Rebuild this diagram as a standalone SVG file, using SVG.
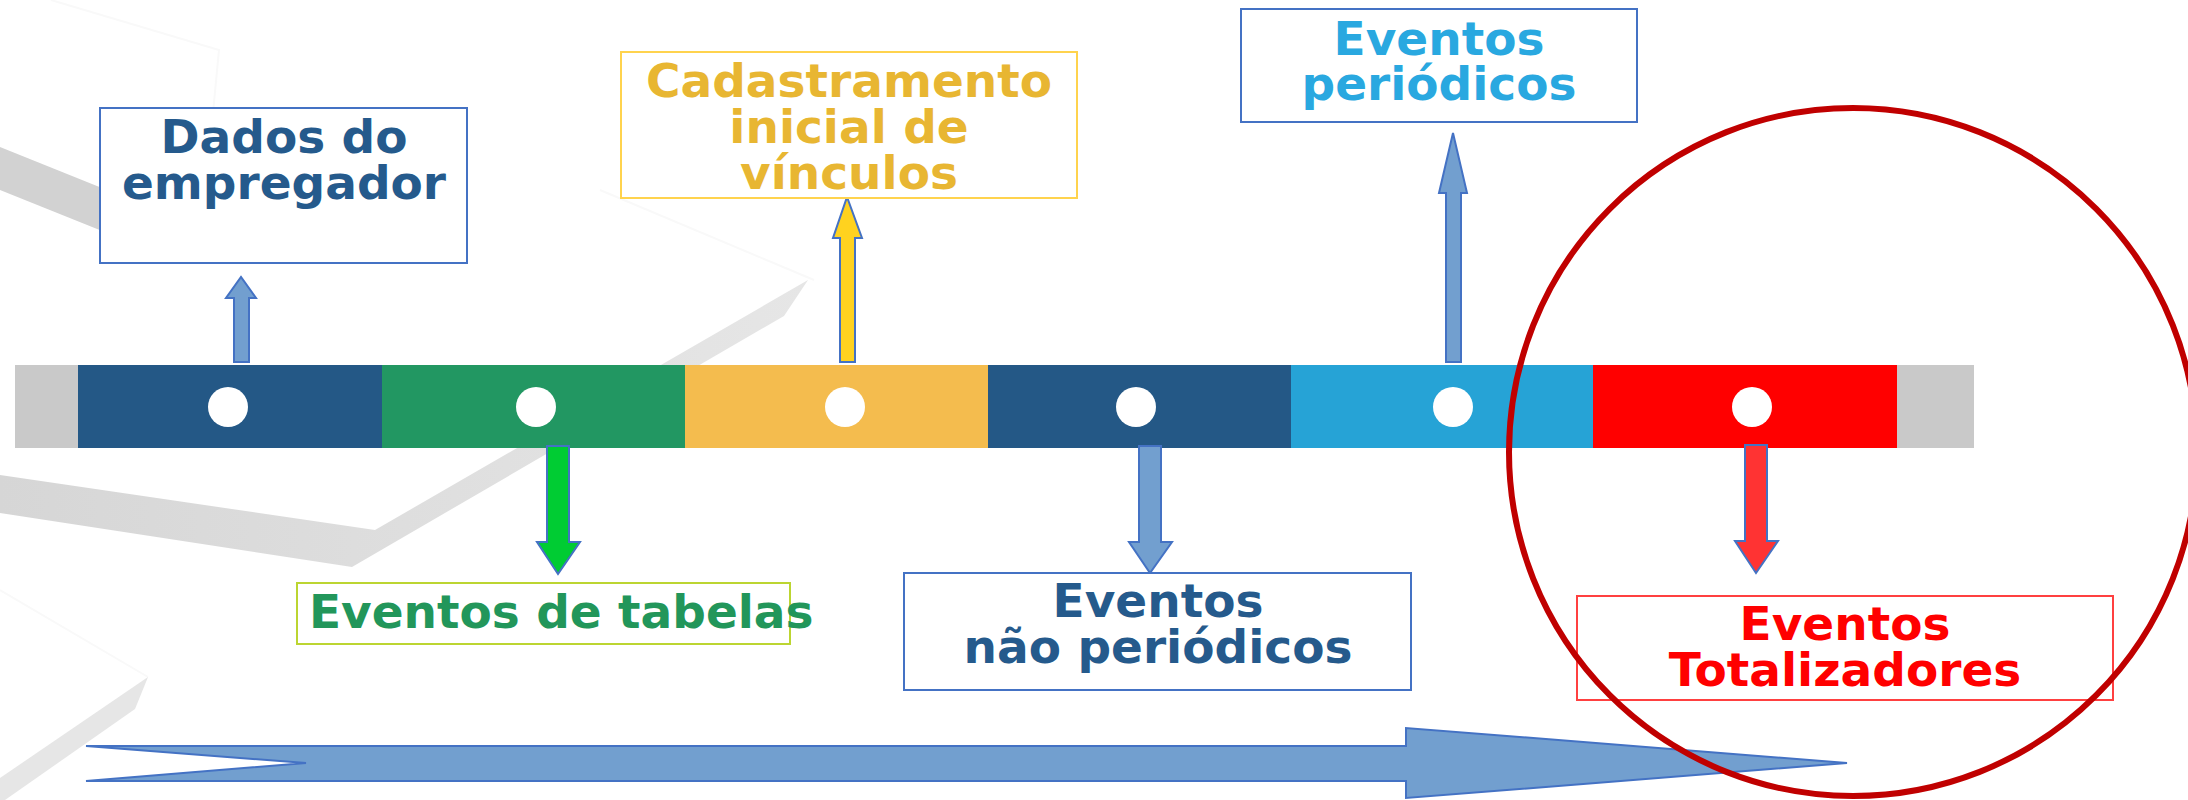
<svg xmlns="http://www.w3.org/2000/svg" width="2188" height="800" viewBox="0 0 2188 800">
<style>
.lbl{font-family:"DejaVu Sans","Verdana",sans-serif;font-weight:bold;font-size:47px;text-anchor:middle}
.box{fill:#fff;stroke-width:2}
.arr{stroke:#4472C4;stroke-width:2;stroke-linejoin:miter}
.dot{fill:#fff}
.faint{fill:none;stroke:#F9F9F9;stroke-width:2}
</style>
<defs>
<linearGradient id="g1" x1="0" y1="0" x2="1" y2="0">
<stop offset="0" stop-color="#D6D6D6"/>
<stop offset="1" stop-color="#E6E6E6"/>
</linearGradient>
</defs>
<rect width="2188" height="800" fill="#fff"/>
<g id="background">
<polyline class="faint" points="51,0 219,50 204,207"/>
<polyline class="faint" points="600,190 814,280"/>
<polyline class="faint" points="0,590 148,677"/>
<polygon points="0,147 184,221 132,243 0,190" fill="#D2D2D2"/>
<polygon points="0,475 375,530 808,280 784,316 352,567 0,513" fill="url(#g1)"/>
<polygon points="0,778 148,677 135,709 5,800 0,800" fill="#E6E6E6"/>
</g>
<g id="timeline">
<rect x="15" y="365" width="63" height="83" fill="#C9C9C9"/>
<rect x="78" y="365" width="304" height="83" fill="#245886"/>
<rect x="382" y="365" width="303" height="83" fill="#229762"/>
<rect x="685" y="365" width="303" height="83" fill="#F4BC4E"/>
<rect x="988" y="365" width="303" height="83" fill="#245886"/>
<rect x="1291" y="365" width="302" height="83" fill="#26A3D6"/>
<rect x="1593" y="365" width="304" height="83" fill="#FF0000"/>
<rect x="1897" y="365" width="77" height="83" fill="#C9C9C9"/>
<circle class="dot" cx="228" cy="407" r="20"/>
<circle class="dot" cx="536" cy="407" r="20"/>
<circle class="dot" cx="845" cy="407" r="20"/>
<circle class="dot" cx="1136" cy="407" r="20"/>
<circle class="dot" cx="1453" cy="407" r="20"/>
<circle class="dot" cx="1752" cy="407" r="20"/>
</g>
<g id="connectors">
<polygon class="arr" fill="#729FCF" points="234,362 234,298 226,298 241,277 256,298 249,298 249,362"/>
<polygon class="arr" fill="#FFD21F" points="840,362 840,238 833,238 847,197 862,238 855,238 855,362"/>
<polygon class="arr" fill="#729FCF" points="1446,362 1446,193 1439,193 1453,133 1467,193 1461,193 1461,362"/>
<polygon class="arr" fill="#00CC33" points="547,446 569,446 569,542 580,542 558,574 537,542 547,542"/>
<polygon class="arr" fill="#729FCF" points="1139,446 1161,446 1161,542 1172,542 1150,573 1129,542 1139,542"/>
<polygon class="arr" fill="#FF3333" points="1745,445 1767,445 1767,541 1778,541 1756,573 1735,541 1745,541"/>
</g>
<g id="node-dados">
<rect class="box" x="100" y="108" width="367" height="155" stroke="#4472C4"/>
<text class="lbl" fill="#255A8C"><tspan x="284" y="153">Dados do</tspan><tspan x="284" y="199">empregador</tspan></text>
</g>
<g id="node-cadastramento">
<rect class="box" x="621" y="52" width="456" height="146" stroke="#FFD34D"/>
<text class="lbl" fill="#E8B632"><tspan x="849" y="97">Cadastramento</tspan><tspan x="849" y="143">inicial de</tspan><tspan x="849" y="189">vínculos</tspan></text>
</g>
<g id="node-periodicos">
<rect class="box" x="1241" y="9" width="396" height="113" stroke="#4472C4"/>
<text class="lbl" fill="#29A8E0"><tspan x="1439" y="55">Eventos</tspan><tspan x="1439" y="100">periódicos</tspan></text>
</g>
<g id="node-tabelas">
<rect class="box" x="297" y="583" width="493" height="61" stroke="#BCD531" stroke-width="2.5"/>
<text class="lbl" fill="#22965A" x="309" y="628" style="text-anchor:start">Eventos de tabelas</text>
</g>
<g id="node-nao-periodicos">
<rect class="box" x="904" y="573" width="507" height="117" stroke="#4472C4"/>
<text class="lbl" fill="#255A8C"><tspan x="1158" y="617">Eventos</tspan><tspan x="1158" y="663">não periódicos</tspan></text>
</g>
<g id="node-totalizadores">
<rect class="box" x="1577" y="596" width="536" height="104" stroke="#FF4040"/>
<text class="lbl" fill="#FF0000"><tspan x="1845" y="640">Eventos</tspan><tspan x="1845" y="686">Totalizadores</tspan></text>
</g>
<g id="time-arrow">
<polygon points="86,746 1406,746 1406,728 1847,763 1406,798 1406,781 86,781 306,763" fill="#729FCF" stroke="#4472C4" stroke-width="2" stroke-linejoin="miter"/>
</g>
<g id="highlight">
<circle cx="1853" cy="452" r="344" fill="none" stroke="#C00000" stroke-width="6"/>
</g>
</svg>
